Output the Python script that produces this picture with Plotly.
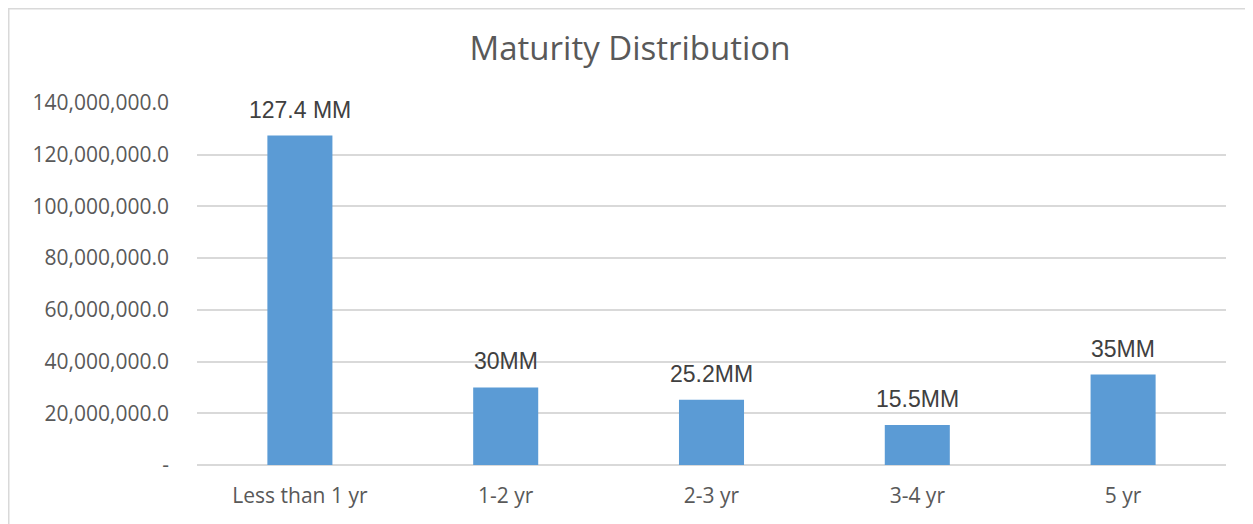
import plotly.graph_objects as go

categories = ["Less than 1 yr", "1-2 yr", "2-3 yr", "3-4 yr", "5 yr"]
values = [127400000, 30000000, 25200000, 15500000, 35000000]
labels = ["127.4 MM", "30MM", "25.2MM", "15.5MM", "35MM"]
tick_vals = [0, 20000000, 40000000, 60000000, 80000000, 100000000, 120000000, 140000000]
tick_text = ["-", "20,000,000.0", "40,000,000.0", "60,000,000.0", "80,000,000.0",
             "100,000,000.0", "120,000,000.0", "140,000,000.0"]

# page body adds an 8px offset; figure sized to fit the window
W, H = 1245, 516
L, R, T, B = 189, 27, 95, 59
pw, ph = W - L - R, H - T - B

fig = go.Figure(go.Bar(
    x=categories, y=values,
    marker=dict(color="#5B9BD5", line=dict(width=0)),
    hoverinfo="skip",
))

annotations = [
    dict(x=c, y=v, text=t, xref="x", yref="y", showarrow=False,
         yanchor="bottom", xanchor="center", yshift=11,
         font=dict(family="Liberation Sans, Arial", size=23, color="#404040"))
    for c, v, t in zip(categories, values, labels)
]

fig.update_layout(
    width=W, height=H,
    margin=dict(l=L, r=R, t=T, b=B, pad=0),
    paper_bgcolor="white", plot_bgcolor="white",
    bargap=0.684,
    showlegend=False,
    annotations=annotations,
    title=dict(text="Maturity Distribution", x=622 / W, xanchor="center",
               y=1 - 40 / H, yanchor="middle",
               font=dict(family="Open Sans, Lato", size=33, color="#595959")),
    xaxis=dict(showgrid=False, showline=False, zeroline=False, ticks="",
               ticklabelstandoff=16,
               tickfont=dict(family="Open Sans, Lato", size=21, color="#595959")),
    yaxis=dict(range=[0, 140000000], tickvals=tick_vals, ticktext=tick_text,
               showgrid=True, gridcolor="#D9D9D9", gridwidth=1.5,
               zeroline=True, zerolinecolor="#D9D9D9", zerolinewidth=1.5,
               showline=False, ticks="", ticklen=0, ticklabelstandoff=27,
               tickfont=dict(family="Open Sans, Lato", size=21, color="#595959")),
    shapes=[dict(type="rect", xref="paper", yref="paper",
                 x0=(0.75 - L) / pw, x1=(W + 20 - L) / pw,
                 y0=-(B + 20) / ph, y1=(H - B - 0.75) / ph,
                 line=dict(color="#D9D9D9", width=1.5), fillcolor="rgba(0,0,0,0)",
                 layer="below")],
)

fig.write_html("out.html")
